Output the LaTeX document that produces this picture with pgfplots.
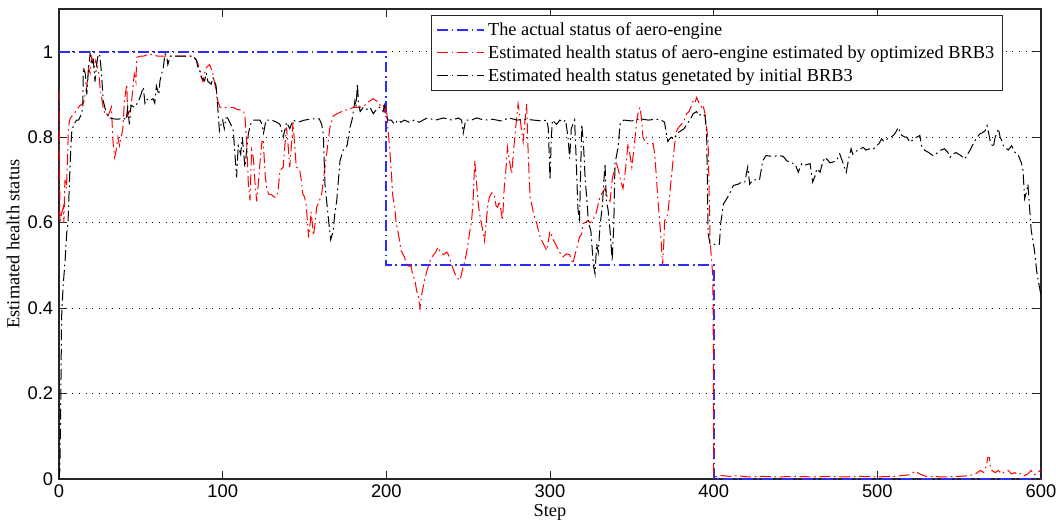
\documentclass[border=0pt]{standalone}
\usepackage{pgfplots}
\pgfplotsset{compat=1.18}
\usepackage{fontspec}
\setmainfont{Liberation Serif}
\newfontfamily\ticksans{Liberation Sans}
\definecolor{mblue}{RGB}{45,45,255}
\tikzset{mdashdot/.style={line width=0.6pt,dash pattern=on 6.5pt off 2.2pt on 1pt off 2.2pt}}
\begin{document}
\begin{tikzpicture}
\begin{axis}[
  scale only axis, width=589.2pt, height=282pt,
  xmin=0, xmax=600, ymin=0, ymax=1.1,
  xtick={0,100,...,600}, ytick={0,0.2,0.4,0.6,0.8,1},
  tick align=inside, major tick length=5pt,
  axis line style={black!85, line width=0.7pt},
  every tick/.style={black!85, line width=0.6pt},
  ymajorgrids=true,
  grid style={black, line width=0.6pt, dash pattern=on 0.6pt off 3.4pt},
  /pgf/number format/assume math mode=true,
  tick label style={font=\fontsize{11}{13}\selectfont\ticksans},
  label style={font=\fontsize{11}{13}\selectfont},
  xlabel={Step}, ylabel={Estimated health status},
  xlabel style={yshift=3pt}, ylabel style={yshift=-2pt},
  legend cell align=left,
  legend style={at={(rel axis cs:1,1)}, anchor=north east, xshift=-22.8pt, yshift=-3.6pt,
    font=\fontsize{11}{13}\selectfont, draw=black!85, line width=0.6pt,
    inner xsep=3pt, inner ysep=2pt, row sep=0.6pt},
  legend image code/.code={\draw[#1] (0pt,0pt) -- (28pt,0pt);},
]
\addplot[color=mblue, mdashdot, line width=1.05pt] coordinates {(0,1) (200,1) (200,0.5) (400,0.5) (400,0) (600,0)};
\addlegendentry{The actual status of aero-engine}
\addplot[color=red, mdashdot] coordinates {
(0,0.909) (0.6,0.60) (1.5,0.62) (2.6,0.636) (3,0.6) (3.6,0.70) (4.5,0.68) (5.3,0.753) (5.7,0.823) (6.7,0.843)
(8,0.85) (9.8,0.858) (11,0.865) (12.8,0.874) (15,0.88) (16,0.9) (17,0.917) (18,0.963) (19,0.95) (20,0.987)
(21,0.97) (21.5,0.965) (22.5,0.98) (23,0.97) (24.4,0.948) (25,0.92) (26,0.893) (27,0.87) (28,0.855) (30,0.85)
(32,0.87) (33,0.79) (34,0.753) (35,0.77) (36,0.80) (37,0.78) (38,0.80) (39,0.82) (40,0.885) (41.4,0.924)
(42,0.85) (43,0.86) (44,0.87) (45,0.91) (46,0.948) (47,0.93) (47.5,0.987) (50,0.99) (52,0.99) (55,0.995)
(60,0.99) (65,0.99) (70,0.99) (75,0.99) (80,0.99) (82,0.99) (84,0.98) (85,0.97) (86,0.956) (87,0.94)
(88,0.93) (89,0.95) (90,0.963) (92,0.97) (93,0.96) (94,0.948) (95.3,0.924) (96,0.91) (97,0.885) (98.4,0.87)
(100,0.87) (103,0.87) (106,0.87) (109,0.865) (112.6,0.862) (113.6,0.85) (114.7,0.784) (115.7,0.69) (116.7,0.652) (117.7,0.77)
(118.8,0.75) (119.8,0.69) (120.8,0.65) (122,0.70) (123,0.75) (124,0.79) (124.8,0.79) (126,0.71) (127,0.68) (128,0.667)
(130,0.665) (131.5,0.66) (133,0.66) (134,0.68) (135,0.722) (137,0.73) (138,0.78) (139,0.823) (140,0.78) (141,0.73)
(142,0.78) (143,0.835) (144,0.78) (145,0.73) (147,0.725) (148,0.70) (149,0.667) (150,0.66) (151,0.644) (152.5,0.565)
(153.5,0.6) (154,0.625) (155.5,0.57) (156.5,0.6) (157.4,0.636) (159,0.65) (160.5,0.667) (162.5,0.73) (164.5,0.79) (165.5,0.823)
(167.6,0.85) (170,0.855) (173.7,0.862) (177,0.865) (180,0.87) (184,0.87) (187,0.875) (190,0.885) (192,0.89) (194,0.885)
(196,0.875) (198,0.878) (199,0.86) (200,0.874) (201,0.82) (202,0.776) (203,0.72) (204,0.66) (205,0.64) (206,0.6)
(207,0.58) (208,0.56) (209,0.535) (211,0.52) (213,0.495) (215,0.5) (216,0.48) (217.5,0.465) (218.5,0.44) (219.5,0.43)
(220.6,0.40) (221.5,0.43) (222.5,0.45) (223.6,0.47) (225,0.49) (226.7,0.51) (228,0.52) (230,0.53) (231.7,0.543) (233,0.53)
(235,0.525) (236.9,0.531) (238,0.525) (240,0.5) (242,0.48) (243.5,0.47) (245,0.465) (246.5,0.49) (248,0.51) (249.5,0.54)
(251,0.58) (252,0.6) (253,0.65) (254,0.745) (255,0.70) (256,0.65) (257,0.62) (258,0.6) (259,0.58) (260,0.558)
(261,0.6) (262,0.64) (263,0.66) (264.5,0.67) (266,0.665) (267,0.64) (268,0.636) (269,0.65) (270,0.63) (271,0.605)
(272,0.68) (273,0.72) (274,0.776) (275,0.75) (276.6,0.714) (278,0.78) (279,0.82) (280.5,0.878) (281.5,0.85) (282.5,0.82)
(283.6,0.79) (284.5,0.83) (285.7,0.878) (286.5,0.78) (287.8,0.66) (289,0.64) (290,0.62) (291.9,0.598) (293,0.58) (294,0.566)
(296,0.55) (298,0.535) (300,0.58) (301,0.57) (302,0.56) (304,0.545) (306,0.53) (308,0.52) (310,0.527) (312,0.525)
(314,0.504) (315,0.52) (316,0.535) (318,0.566) (319.5,0.575) (320,0.598) (321.5,0.6) (323,0.605) (324.5,0.6) (326,0.605)
(328,0.62) (330.5,0.66) (332,0.67) (333.6,0.68) (335,0.66) (336.7,0.65) (338,0.70) (339,0.72) (340.7,0.738) (342,0.72)
(343,0.70) (344.6,0.68) (346,0.72) (347.7,0.785) (348.8,0.76) (350,0.73) (351.5,0.78) (353,0.84) (354,0.86) (355,0.87)
(356,0.84) (356.8,0.80) (358,0.79) (359,0.785) (361,0.785) (363,0.785) (364,0.76) (365,0.706) (366,0.65) (367,0.605)
(368,0.55) (368.8,0.50) (369.5,0.55) (370,0.605) (371,0.61) (372,0.62) (373,0.66) (374,0.70) (375,0.738) (376,0.78)
(377.4,0.815) (379,0.825) (380.4,0.83) (382,0.84) (383.5,0.855) (385,0.86) (386.5,0.875) (387.5,0.885) (388.5,0.88) (389.6,0.893)
(391,0.88) (392.7,0.87) (393.5,0.875) (394.7,0.855) (395.5,0.83) (396.6,0.79) (397.2,0.68) (397.8,0.558) (398.8,0.51) (399.5,0.47)
(399.8,0.3) (400,0.01) (401,0.005) (405,0.008) (410,0.006) (415,0.008) (420,0.005) (430,0.006) (440,0.005) (450,0.006)
(460,0.005) (470,0.006) (480,0.005) (490,0.006) (500,0.005) (510,0.006) (515,0.008) (520,0.01) (523,0.018) (525,0.014)
(527,0.01) (530,0.006) (540,0.005) (550,0.006) (556,0.008) (560,0.012) (563,0.02) (565,0.015) (566.5,0.03) (567.5,0.05)
(568.5,0.05) (569,0.03) (570,0.02) (572,0.015) (574,0.02) (576,0.012) (578,0.018) (580,0.02) (582,0.012) (584,0.015)
(586,0.01) (588,0.014) (590,0.008) (592,0.012) (594,0.02) (596,0.01) (598,0.015) (600,0.022)
};
\addlegendentry{Estimated health status of aero-engine estimated by optimized BRB3}
\addplot[color=black, mdashdot] coordinates {
(0,0) (0.5,0.02) (1,0.15) (1.6,0.38) (2.5,0.45) (3.7,0.51) (4.7,0.575) (5.5,0.6) (6.7,0.73) (7.7,0.81)
(9,0.83) (10.8,0.84) (12,0.84) (13.8,0.855) (14.5,0.87) (14.9,0.963) (16,0.95) (17,0.9) (18,0.96) (19,0.995)
(20,0.97) (21,0.98) (22,0.93) (23,0.97) (24,0.995) (25,0.99) (26,0.948) (27,0.885) (28,0.87) (29,0.855)
(31,0.845) (33,0.843) (36,0.842) (39.5,0.845) (41,0.84) (42,0.87) (43,0.83) (44,0.875) (46,0.87) (48,0.88)
(49.5,0.893) (51.5,0.917) (52.5,0.88) (53.5,0.89) (55,0.885) (57.5,0.89) (58.5,0.88) (59.5,0.92) (61,0.9) (61.7,0.932)
(63.7,0.963) (64.8,0.995) (65.8,0.99) (66.5,0.97) (68,0.99) (75,0.99) (82,0.99) (84,0.98) (85,0.96) (86,0.956)
(87,0.94) (89,0.932) (90,0.95) (91,0.93) (93,0.924) (94,0.94) (95,0.93) (96,0.92) (97,0.87) (98,0.815)
(99,0.83) (100,0.84) (101,0.82) (102,0.845) (103,0.845) (105,0.83) (106.5,0.815) (107.5,0.76) (108.5,0.706) (109.5,0.78)
(111,0.76) (112,0.8) (113.6,0.73) (115.7,0.808) (117,0.83) (119,0.84) (121,0.84) (122.8,0.84) (124,0.83) (125,0.81)
(126.5,0.84) (130,0.84) (133,0.835) (135,0.83) (137,0.80) (139,0.835) (141,0.82) (143,0.84) (146,0.835) (150,0.84)
(155,0.843) (159,0.843) (160.5,0.83) (161.5,0.808) (162.5,0.69) (164.5,0.613) (166,0.56) (167.5,0.58) (168.5,0.62) (169.7,0.652)
(171.7,0.745) (173.7,0.77) (176,0.78) (177.8,0.823) (179,0.84) (180.8,0.885) (181.5,0.87) (182.3,0.925) (183,0.88) (184,0.86)
(186,0.87) (188,0.865) (190,0.87) (192,0.855) (194,0.865) (196,0.87) (198,0.86) (199,0.875) (200,0.85) (201,0.84)
(203,0.84) (205,0.83) (207,0.84) (209,0.835) (211,0.84) (214,0.835) (217,0.84) (220,0.835) (225,0.845) (230,0.84)
(235,0.845) (240,0.84) (244,0.845) (246,0.84) (247,0.81) (248.5,0.84) (252,0.84) (255,0.845) (260,0.84) (265,0.842)
(270,0.838) (275,0.845) (280,0.84) (285,0.842) (290,0.84) (295,0.838) (298,0.84) (299,0.82) (300,0.70) (300.8,0.80)
(301.5,0.84) (304,0.83) (306,0.84) (308,0.835) (309.5,0.84) (311,0.80) (312,0.75) (313,0.82) (315,0.84) (316,0.75)
(317,0.636) (318,0.6) (319.4,0.83) (320.5,0.78) (321.5,0.70) (322.4,0.66) (323.5,0.6) (325,0.58) (326.5,0.5) (327.5,0.48)
(328.5,0.55) (329.5,0.53) (330.5,0.59) (332,0.64) (333.6,0.738) (334.5,0.65) (335.5,0.63) (336.7,0.58) (338,0.51) (339,0.60)
(339.7,0.738) (341.6,0.776) (342.8,0.83) (345,0.84) (350,0.838) (355,0.843) (360,0.84) (365,0.842) (368,0.84) (370,0.835)
(371,0.81) (372,0.79) (374,0.80) (375.5,0.795) (378,0.81) (380,0.815) (382,0.82) (383.5,0.83) (385.5,0.84) (387.5,0.855)
(389.5,0.86) (391,0.85) (392.5,0.855) (394.7,0.85) (395.7,0.81) (396.6,0.575) (397.8,0.55) (400,0.55) (402,0.547) (403.5,0.55)
(404.3,0.598) (406,0.644) (408,0.656) (410,0.67) (412,0.687) (415,0.69) (417,0.695) (419,0.695) (420.8,0.73) (422,0.69)
(424,0.70) (428,0.70) (430,0.745) (432,0.757) (436,0.755) (440,0.757) (442.5,0.755) (444.6,0.745) (447,0.74) (449.7,0.738)
(451.7,0.718) (453.8,0.738) (456,0.735) (458.9,0.738) (460.5,0.695) (462,0.71) (463,0.726) (465,0.718) (466.5,0.74) (468,0.753)
(470,0.745) (471,0.74) (473,0.742) (475,0.745) (477,0.761) (479,0.74) (481,0.718) (482.5,0.75) (484,0.773) (485,0.76)
(488,0.77) (491.4,0.776) (493,0.77) (495.5,0.773) (497.5,0.772) (499.6,0.78) (501,0.785) (502.6,0.796) (504,0.79) (505.7,0.795)
(508,0.80) (509.8,0.804) (511,0.81) (512.8,0.823) (514,0.81) (515,0.804) (517,0.80) (518,0.8) (520,0.788) (522,0.795)
(524,0.80) (526,0.804) (527,0.78) (529,0.769) (531,0.765) (534,0.757) (537,0.764) (539,0.77) (541,0.773) (543,0.765)
(544.4,0.753) (546,0.76) (548,0.764) (551,0.757) (553.5,0.749) (555,0.76) (556.6,0.769) (558,0.78) (559.7,0.792) (561,0.80)
(562.7,0.808) (564,0.81) (565.8,0.815) (567,0.827) (568,0.81) (569,0.79) (570.8,0.776) (572,0.80) (573,0.81) (574,0.82)
(575,0.80) (576,0.792) (577,0.78) (578,0.776) (580,0.77) (582,0.78) (584,0.765) (586,0.76) (587,0.749) (588,0.74)
(589,0.722) (590,0.656) (591,0.67) (592,0.69) (593,0.636) (594,0.582) (595,0.56) (596,0.535) (597.3,0.488) (598.5,0.46)
(600,0.43)
};
\addlegendentry{Estimated health status genetated by initial BRB3}
\end{axis}
\pgfresetboundingbox
\path[use as bounding box] ([xshift=-35.4pt,yshift=-29.4pt]current axis.south west) rectangle ([xshift=9pt,yshift=5.4pt]current axis.north east);
\end{tikzpicture}
\end{document}
